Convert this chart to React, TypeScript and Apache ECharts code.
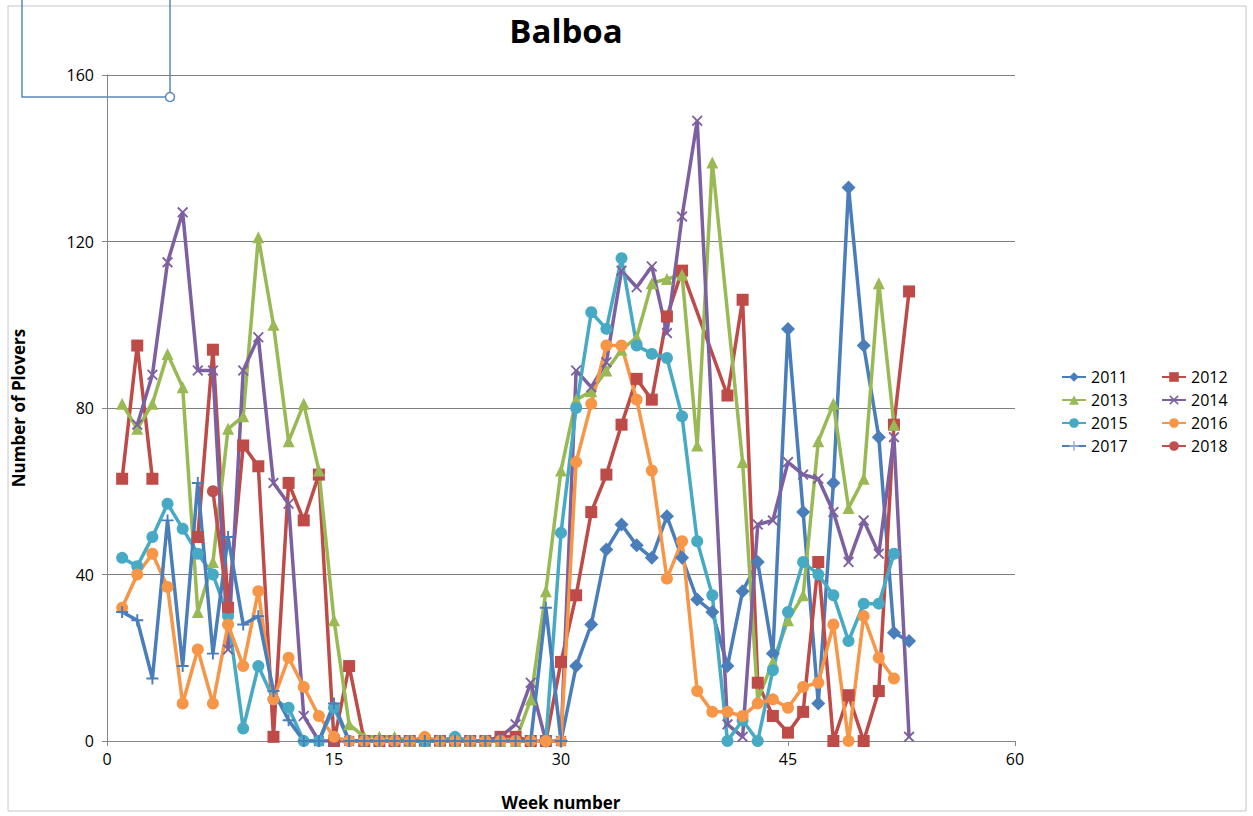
import React, { useEffect, useRef } from "react";
import * as echarts from "echarts";

const N = null;
const WEEKS = Array.from({ length: 53 }, (_, i) => i + 1);
const X_TICKS = [0, 15, 30, 45, 60];
const Y_TICKS = [0, 40, 80, 120, 160];

// values per week (index 0 = week 1)
const Y2011 = [N,N,N,N,N,N,N,N,N,N,N,N,N,N,N,N,N,N,N,N,N,N,N,N,N,N,N,N,0,0,18,28,46,52,47,44,54,44,34,31,18,36,43,21,99,55,9,62,133,95,73,26,24];
const Y2012A = [63,95,63,N,N,N,N,N,N,N,N,N,N,N,N,N,N,N,N,N,N,N,N,N,N,N,N,N,N,N,N,N,N,N,N,N,N,N,N,N,N,N,N,N,N,N,N,N,N,N,N,N,N];
const Y2012B = [N,N,N,N,N,49,94,32,71,66,1,62,53,64,0,18,0,0,0,0,0,0,0,0,0,1,1,0,0,19,35,55,64,76,87,82,102,113,N,N,83,106,14,6,2,7,43,0,11,0,12,76,108];
const Y2013 = [81,75,81,93,85,31,43,75,78,121,100,72,81,65,29,4,1,1,1,0,0,0,0,0,0,0,0,10,36,65,82,84,89,94,97,110,111,112,71,139,N,67,10,19,29,35,72,81,56,63,110,76,N];
const Y2014 = [N,76,88,115,127,89,89,22,89,97,62,57,6,0,0,0,0,0,0,0,0,0,0,0,0,1,4,14,0,0,89,85,91,113,109,114,98,126,149,N,4,1,52,53,67,64,63,55,43,53,45,73,1];
const Y2015 = [44,42,49,57,51,45,40,30,3,18,10,8,0,0,8,0,0,0,0,0,0,0,1,0,0,0,0,0,0,50,80,103,99,116,95,93,92,78,48,35,0,5,0,17,31,43,40,35,24,33,33,45,N];
const Y2016 = [32,40,45,37,9,22,9,28,18,36,10,20,13,6,1,0,0,0,0,0,1,0,0,0,0,0,0,0,0,0,67,81,95,95,82,65,39,48,12,7,7,6,9,10,8,13,14,28,0,30,20,15,N];
const Y2017 = [31,29,15,53,18,62,21,49,28,30,12,5,0,0,9,0,0,0,0,0,0,0,0,0,0,0,0,0,32,0,N,N,N,N,N,N,N,N,N,N,N,N,N,N,N,N,N,N,N,N,N,N,N];
const Y2018 = [N,N,N,N,N,N,60,32,N,N,N,N,N,N,N,N,N,N,N,N,N,N,N,N,N,N,N,N,N,N,N,N,N,N,N,N,N,N,N,N,N,N,N,N,N,N,N,N,N,N,N,N,N];

const SYM_X = "path://M0,1.2 L1.2,0 L5,3.8 L8.8,0 L10,1.2 L6.2,5 L10,8.8 L8.8,10 L5,6.2 L1.2,10 L0,8.8 L3.8,5 Z";
const SYM_PLUS = "path://M4.2,0 H5.8 V4.2 H10 V5.8 H5.8 V10 H4.2 V5.8 H0 V4.2 H4.2 Z";

const FONT = "'Open Sans', 'DejaVu Sans', sans-serif";

function toPairs(arr: (number | null)[]) {
  return WEEKS.map((w, i) => [w, arr[i] === null ? "-" : arr[i]]);
}

function mk(name: string, arr: (number | null)[], color: string, symbol: string, size: number, connect = false) {
  return {
    name,
    type: "line",
    data: toPairs(arr),
    symbol,
    symbolSize: size,
    connectNulls: connect,
    lineStyle: { width: 3.5, color },
    itemStyle: { color },
    emphasis: { disabled: true },
  };
}

export default function App() {
  const ref = useRef<HTMLDivElement>(null);
  useEffect(() => {
    if (!ref.current) return;
    const chart = echarts.init(ref.current, null, { renderer: "svg" });
    const legendText = { fontSize: 16, color: "#000", fontFamily: FONT };
    chart.setOption({
      animation: false,
      backgroundColor: "#fff",
      title: {
        text: "Balboa",
        left: 561,
        top: 9,
        textAlign: "center",
        textStyle: { fontSize: 33, fontWeight: "bold", color: "#000", fontFamily: FONT },
      },
      grid: { left: 107, right: 238, top: 75, bottom: 75 },
      legend: [
        {
          orient: "vertical",
          left: 1056,
          top: 364,
          itemWidth: 24,
          itemHeight: 12,
          itemGap: 7,
          textStyle: legendText,
          data: ["2011", "2013", "2015", { name: "2017", itemStyle: { color: "#9db2c9" } }],
        },
        {
          orient: "vertical",
          left: 1156,
          top: 364,
          itemWidth: 24,
          itemHeight: 12,
          itemGap: 7,
          textStyle: legendText,
          data: ["2012", "2014", "2016", "2018"],
        },
      ],
      xAxis: {
        type: "value",
        min: 0,
        max: 60,
        interval: 15,
        name: "Week number",
        nameLocation: "middle",
        nameGap: 53,
        nameTextStyle: { fontSize: 17, fontWeight: "bold", color: "#000", fontFamily: FONT },
        axisLine: { show: true, lineStyle: { color: "#868686", width: 1 } },
        axisTick: { show: true, length: 5, lineStyle: { color: "#868686" } },
        axisLabel: { fontSize: 16, color: "#000", margin: 10, fontFamily: FONT },
        splitLine: { show: false },
      },
      yAxis: {
        type: "value",
        min: 0,
        max: 160,
        interval: 40,
        name: "Number of Plovers",
        nameLocation: "middle",
        nameGap: 80,
        nameTextStyle: { fontSize: 17, fontWeight: "bold", color: "#000", fontFamily: FONT },
        axisLine: { show: true, lineStyle: { color: "#868686", width: 1 } },
        axisTick: { show: true, length: 5, lineStyle: { color: "#868686" } },
        axisLabel: { fontSize: 16, color: "#000", margin: 13, fontFamily: FONT },
        splitLine: { show: true, lineStyle: { color: "#7f7f7f", width: 1 } },
      },
      graphic: [
        {
          type: "rect",
          shape: { x: 8, y: 6, width: 1238, height: 805 },
          style: { fill: "none", stroke: "#c6c6c6", lineWidth: 1 },
          silent: true,
        },
        {
          type: "polyline",
          shape: { points: [[22, 0], [22, 97], [170, 97], [170, 0]] },
          style: { fill: "none", stroke: "#5a86b8", lineWidth: 1.5 },
          silent: true,
        },
        {
          type: "circle",
          shape: { cx: 170, cy: 97, r: 4.5 },
          style: { fill: "#fff", stroke: "#5a86b8", lineWidth: 1.5 },
          silent: true,
        },
      ],
      series: [
        mk("2011", Y2011, "#4a7ebb", "diamond", 14),
        mk("2012", Y2012A, "#be4b48", "rect", 12),
        mk("2012", Y2012B, "#be4b48", "rect", 12, true),
        mk("2013", Y2013, "#98b954", "triangle", 12, true),
        mk("2014", Y2014, "#7d60a0", SYM_X, 11, true),
        mk("2015", Y2015, "#46aac5", "circle", 12),
        mk("2016", Y2016, "#f79646", "circle", 12),
        mk("2017", Y2017, "#4a7ebb", SYM_PLUS, 12),
        mk("2018", Y2018, "#c0504d", "circle", 12),
      ],
    });
    return () => chart.dispose();
  }, []);
  return <div ref={ref} style={{ position: "absolute", left: 0, top: 0, width: 1253, height: 816 }} />;
}
